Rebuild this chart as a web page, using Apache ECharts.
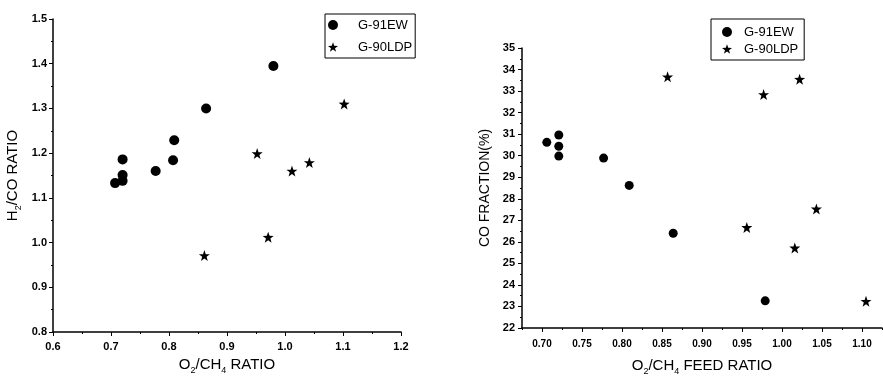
<!DOCTYPE html>
<html>
<head>
<meta charset="utf-8">
<script src="https://cdn.jsdelivr.net/npm/echarts@6/dist/echarts.min.js"></script>
<style>
html,body{margin:0;padding:0;background:#fff;}
#c{width:883px;height:381px;}
</style>
</head>
<body>
<div id="c"></div>
<script>
// ---- Data ----
// Left chart: H2/CO ratio vs O2/CH4 ratio
const leftEW_x  = [0.707, 0.720, 0.720, 0.720, 0.777, 0.807, 0.809, 0.864, 0.980];
const leftEW_y  = [1.133, 1.138, 1.151, 1.186, 1.160, 1.184, 1.229, 1.300, 1.395];
const leftLDP_x = [0.861, 0.952, 0.971, 1.012, 1.042, 1.102];
const leftLDP_y = [0.971, 1.199, 1.012, 1.160, 1.179, 1.310];
// Right chart: CO fraction (%) vs O2/CH4 feed ratio
const rightEW_x  = [0.706, 0.721, 0.721, 0.721, 0.777, 0.809, 0.864, 0.979];
const rightEW_y  = [30.62, 30.96, 30.44, 29.98, 29.89, 28.62, 26.40, 23.26];
const rightLDP_x = [0.857, 0.956, 0.977, 1.016, 1.022, 1.043, 1.105];
const rightLDP_y = [33.66, 26.67, 32.84, 25.72, 33.55, 27.53, 23.24];
// Tick labels
const leftXTicks  = [0.6, 0.7, 0.8, 0.9, 1.0, 1.1, 1.2];
const leftYTicks  = [0.8, 0.9, 1.0, 1.1, 1.2, 1.3, 1.4, 1.5];
const rightXTicks = [0.70, 0.75, 0.80, 0.85, 0.90, 0.95, 1.00, 1.05, 1.10];
const rightXMinor = [0.675, 0.725, 0.775, 0.825, 0.875, 0.925, 0.975, 1.025, 1.075, 1.125];
const rightYTicks = [22,23,24,25,26,27,28,29,30,31,32,33,34,35];
const seriesNames = ['G-91EW', 'G-90LDP'];

const STAR = 'path://M50 0 L61.76 33.82 L97.55 34.55 L69.02 56.18 L79.39 90.45 L50 70 L20.61 90.45 L30.98 56.18 L2.45 34.55 L38.24 33.82 Z';
const FONT = 'Liberation Sans, Arial, sans-serif';
const NARROW = 'Liberation Sans Narrow, Liberation Sans, Arial, sans-serif';
const zip = (a, b) => a.map((v, i) => [v, b[i]]);

const axisLine = {show: true, lineStyle: {color: '#000', width: 1.5}};
const tick = {show: true, length: 4, lineStyle: {color: '#000', width: 1}};
const minor = {show: true, splitNumber: 2, length: 2, lineStyle: {color: '#000', width: 1}};
const richName = (size) => ({
  a: {fontFamily: FONT, fontSize: size, color: '#000', lineHeight: size + 5},
  s: {fontFamily: FONT, fontSize: Math.round(size * 0.6), color: '#000', lineHeight: Math.round(size * 0.6), verticalAlign: 'bottom'}
});
const mark = {color: '#000', opacity: 1};

const option = {
  backgroundColor: '#fff',
  animation: false,
  grid: [
    {left: 53, top: 19, width: 348, height: 313},
    {left: 522, top: 48, width: 360, height: 288}
  ],
  xAxis: [
    {
      gridIndex: 0, type: 'value', position: 'bottom', min: 0.6, max: 1.2, interval: 0.1,
      name: '{a|O}{s|2}{a|/CH}{s|4}{a| RATIO}', nameLocation: 'middle', nameGap: 23,
      nameTextStyle: {rich: richName(15)},
      axisLine: axisLine, axisTick: tick, minorTick: minor, splitLine: {show: false},
      axisLabel: {color: '#000', fontFamily: FONT, fontSize: 11, fontWeight: 'bold', margin: 9,
        customValues: leftXTicks, formatter: v => v.toFixed(1)}
    },
    {
      gridIndex: 1, type: 'value', position: 'bottom', min: 0.675, max: 1.125,
      name: '{a|O}{s|2}{a|/CH}{s|4}{a| FEED RATIO}', nameLocation: 'middle', nameGap: 28,
      nameTextStyle: {rich: richName(15)},
      axisLine: axisLine,
      axisTick: {show: true, length: 4, lineStyle: {color: '#000', width: 1}, customValues: rightXTicks},
      splitLine: {show: false},
      axisLabel: {color: '#000', fontFamily: NARROW, fontSize: 10, fontWeight: 'bold', margin: 11,
        customValues: rightXTicks, formatter: v => v.toFixed(2)}
    },
    {
      gridIndex: 1, type: 'value', position: 'bottom', offset: 0, min: 0.675, max: 1.125,
      axisLine: {show: false}, splitLine: {show: false},
      axisTick: {show: true, length: 2, lineStyle: {color: '#000', width: 1}, customValues: rightXMinor},
      axisLabel: {show: false}
    }
  ],
  yAxis: [
    {
      gridIndex: 0, type: 'value', min: 0.8, max: 1.5, interval: 0.1,
      name: '{a|H}{s|2}{a|/CO RATIO}', nameLocation: 'middle', nameGap: 30, nameRotate: 90,
      nameTextStyle: {rich: richName(15)},
      axisLine: axisLine, axisTick: tick, minorTick: minor, splitLine: {show: false},
      axisLabel: {color: '#000', fontFamily: FONT, fontSize: 11, fontWeight: 'bold', margin: 6,
        customValues: leftYTicks, formatter: v => v.toFixed(1)}
    },
    {
      gridIndex: 1, type: 'value', min: 22, max: 35, interval: 1,
      name: 'CO FRACTION(%)', nameLocation: 'middle', nameGap: 30, nameRotate: 90,
      nameTextStyle: {fontFamily: FONT, fontSize: 14, color: '#000'},
      axisLine: axisLine, axisTick: tick, minorTick: minor, splitLine: {show: false},
      axisLabel: {color: '#000', fontFamily: FONT, fontSize: 11, fontWeight: 'bold', margin: 7,
        customValues: rightYTicks}
    }
  ],
  legend: [
    {
      orient: 'vertical', left: 325, top: 14,
      padding: [4, 3, 4, 3], itemGap: 8, itemWidth: 10, itemHeight: 10,
      borderColor: '#000', borderWidth: 1,
      textStyle: {fontFamily: FONT, fontSize: 13, color: '#000', lineHeight: 14, padding: [0, 0, 0, 15]},
      data: seriesNames
    },
    {
      orient: 'vertical', left: 711, top: 19,
      padding: [6, 6, 4, 11], itemGap: 3, itemWidth: 10, itemHeight: 10,
      borderColor: '#000', borderWidth: 1,
      textStyle: {fontFamily: FONT, fontSize: 13, color: '#000', lineHeight: 14, padding: [0, 0, 0, 7]},
      data: seriesNames
    }
  ],
  series: [
    {name: 'G-91EW', type: 'scatter', xAxisIndex: 0, yAxisIndex: 0, symbol: 'circle', symbolSize: 10,
      itemStyle: mark, data: zip(leftEW_x, leftEW_y)},
    {name: 'G-90LDP', type: 'scatter', xAxisIndex: 0, yAxisIndex: 0, symbol: STAR, symbolSize: 11,
      itemStyle: mark, data: zip(leftLDP_x, leftLDP_y)},
    {name: 'G-91EW', type: 'scatter', xAxisIndex: 1, yAxisIndex: 1, symbol: 'circle', symbolSize: 9,
      itemStyle: mark, data: zip(rightEW_x, rightEW_y)},
    {name: 'G-90LDP', type: 'scatter', xAxisIndex: 1, yAxisIndex: 1, symbol: STAR, symbolSize: 11,
      itemStyle: mark, data: zip(rightLDP_x, rightLDP_y)}
  ]
};

const chart = echarts.init(document.getElementById('c'), null, {renderer: 'canvas'});
chart.setOption(option);
</script>
</body>
</html>
